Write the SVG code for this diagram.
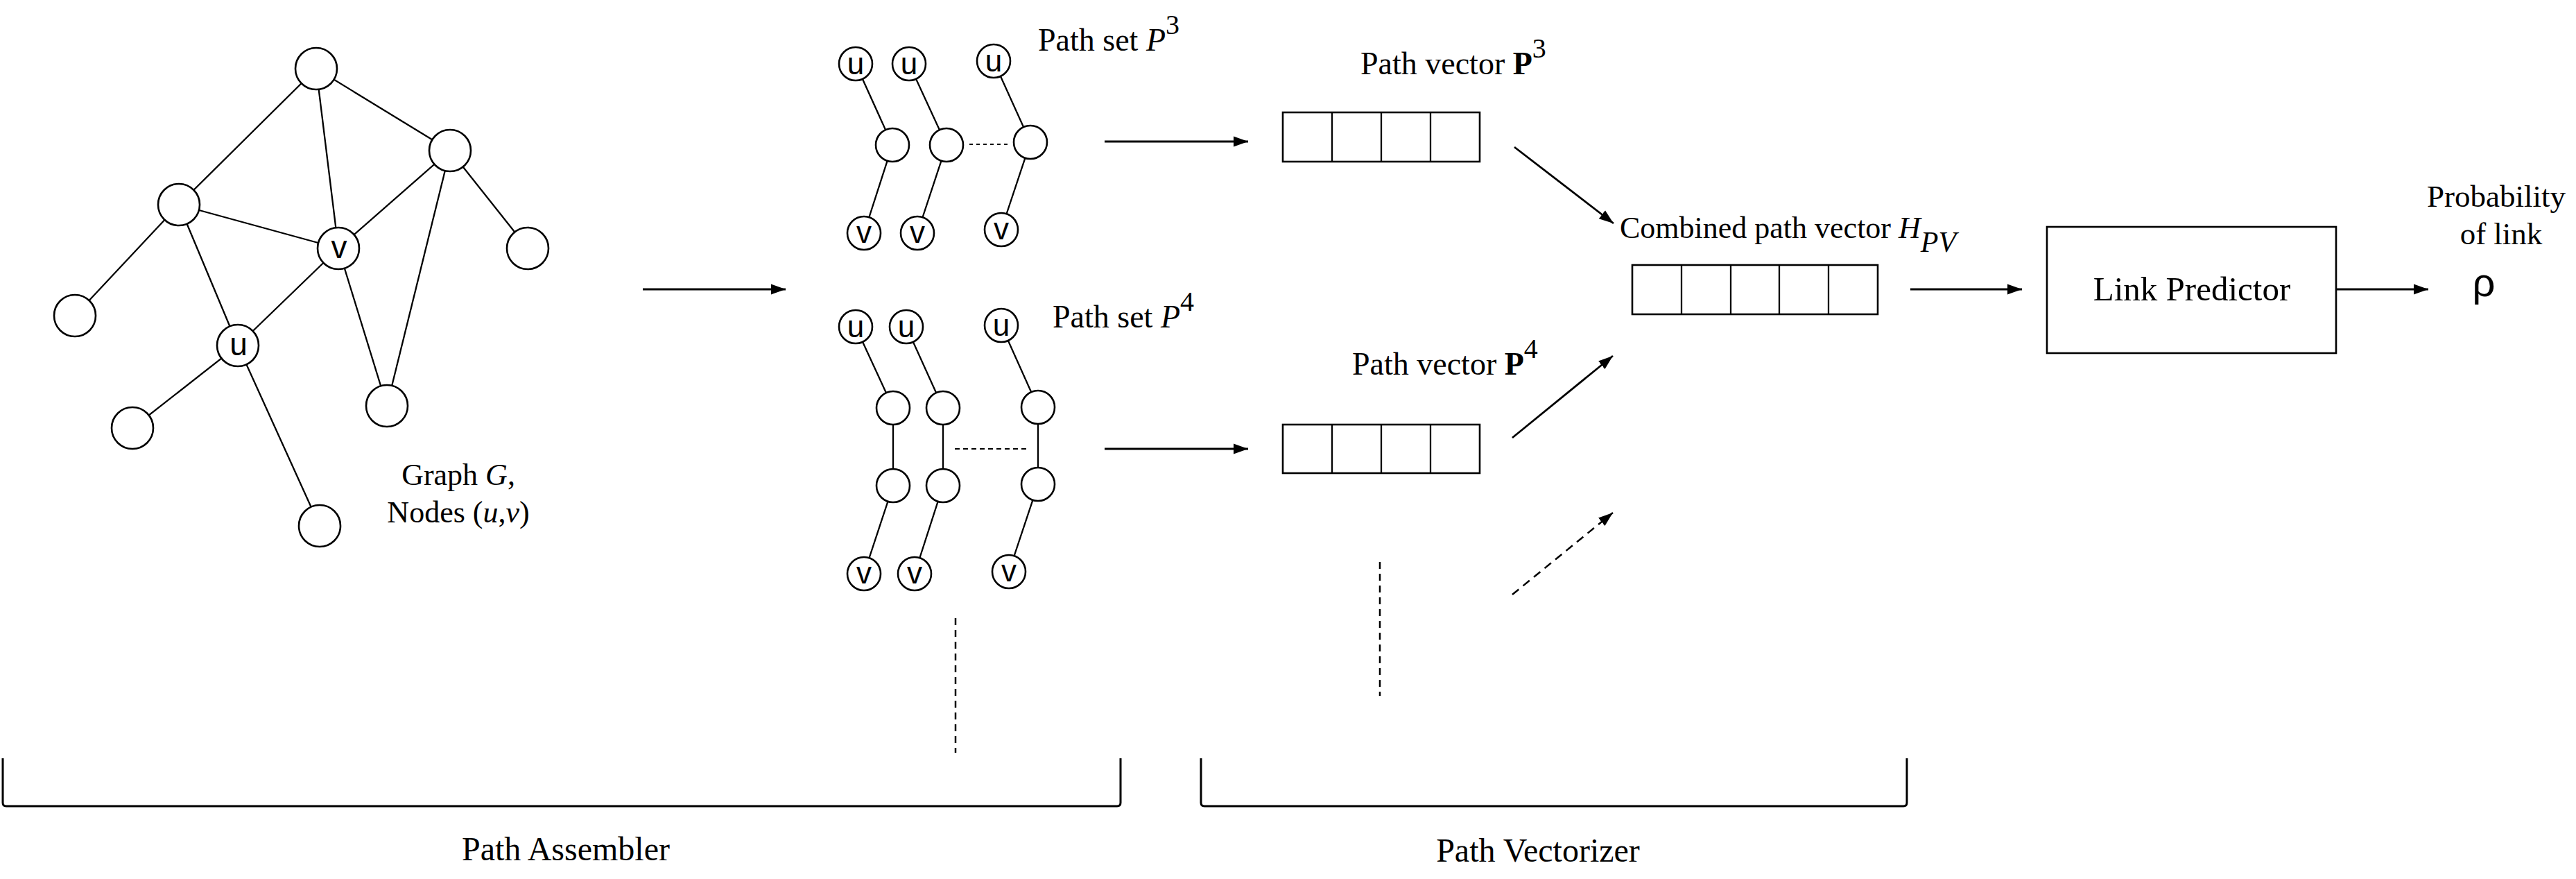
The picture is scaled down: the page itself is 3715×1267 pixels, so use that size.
<svg xmlns="http://www.w3.org/2000/svg" width="3715" height="1267" viewBox="0 0 3715 1267">
<defs>
<marker id="ah" markerUnits="userSpaceOnUse" markerWidth="22" markerHeight="16" refX="21" refY="8" orient="auto"><path d="M0,0.5 L21,8 L0,15.5 z" fill="#000"/></marker>
<style>
.e{stroke:#000;stroke-width:2.3;fill:none}
.c{fill:#fff;stroke:#000;stroke-width:2.6}
.b{fill:#fff;stroke:#000;stroke-width:2.6}
.a{stroke:#000;stroke-width:2.8;fill:none;marker-end:url(#ah)}
.ad{stroke:#000;stroke-width:2.5;fill:none;stroke-dasharray:12 8;marker-end:url(#ah)}
.d{stroke:#000;stroke-width:2.5;fill:none;stroke-dasharray:10 7}
.dot{stroke:#000;stroke-width:2;fill:none;stroke-dasharray:5 5}
.br{stroke:#000;stroke-width:3;fill:none}
.s{font-family:"Liberation Sans",Arial,sans-serif;fill:#000}
.t{font-family:"Liberation Serif","Times New Roman",serif;fill:#000}
.i{font-style:italic}
.bo{font-weight:bold}
</style>
</defs>
<rect width="3715" height="1267" fill="#fff"/>

<g id="connectors">
<line class="e" x1="456" y1="99" x2="258" y2="295"/>
<line class="e" x1="456" y1="99" x2="488" y2="358"/>
<line class="e" x1="456" y1="99" x2="649" y2="217"/>
<line class="e" x1="258" y1="295" x2="488" y2="358"/>
<line class="e" x1="258" y1="295" x2="108" y2="455"/>
<line class="e" x1="258" y1="295" x2="343" y2="498"/>
<line class="e" x1="649" y1="217" x2="488" y2="358"/>
<line class="e" x1="649" y1="217" x2="761" y2="358"/>
<line class="e" x1="649" y1="217" x2="558" y2="585"/>
<line class="e" x1="488" y1="358" x2="558" y2="585"/>
<line class="e" x1="488" y1="358" x2="343" y2="498"/>
<line class="e" x1="343" y1="498" x2="191" y2="617"/>
<line class="e" x1="343" y1="498" x2="461" y2="758"/>
<polyline class="e" points="1234,92 1287,209 1246,336"/>
<polyline class="e" points="1311,92 1365,209 1323,336"/>
<polyline class="e" points="1433,88 1486,205 1444,331"/>
<line class="dot" x1="1398" y1="208" x2="1455" y2="208"/>
<polyline class="e" points="1234,471 1288,588 1288,700 1246,827"/>
<polyline class="e" points="1307,471 1360,588 1360,700 1319,827"/>
<polyline class="e" points="1444,469 1497,587 1497,698 1455,824"/>
<line class="dot" x1="1377" y1="647" x2="1485" y2="647" style="stroke-dasharray:7 5"/>
<line class="a" x1="927" y1="417" x2="1133" y2="417"/>
<line class="a" x1="1593" y1="204" x2="1800" y2="204"/>
<line class="a" x1="1593" y1="647" x2="1800" y2="647"/>
<line class="a" x1="2184" y1="212" x2="2327" y2="322"/>
<line class="a" x1="2181" y1="631" x2="2326" y2="513"/>
<line class="ad" x1="2181" y1="857" x2="2326" y2="739"/>
<line class="a" x1="2755" y1="417" x2="2916" y2="417"/>
<line class="a" x1="3369" y1="417" x2="3502" y2="417"/>
<line class="d" x1="1378" y1="891" x2="1378" y2="1085"/>
<line class="d" x1="1990" y1="810" x2="1990" y2="1003"/>
<path class="br" d="M4,1093 L4,1157 Q4,1162 9,1162 L1611,1162 Q1616,1162 1616,1157 L1616,1093"/>
<path class="br" d="M1732,1093 L1732,1157 Q1732,1162 1737,1162 L2745,1162 Q2750,1162 2750,1157 L2750,1093"/>
</g>

<g id="graph">
<circle class="c" cx="456" cy="99" r="30"/>
<circle class="c" cx="649" cy="217" r="30"/>
<circle class="c" cx="258" cy="295" r="30"/>
<circle class="c" cx="488" cy="358" r="30"/>
<circle class="c" cx="761" cy="358" r="30"/>
<circle class="c" cx="108" cy="455" r="30"/>
<circle class="c" cx="343" cy="498" r="30"/>
<circle class="c" cx="558" cy="585" r="30"/>
<circle class="c" cx="191" cy="617" r="30"/>
<circle class="c" cx="461" cy="758" r="30"/>
<text class="s" x="344" y="512" font-size="46" text-anchor="middle">u</text>
<text class="s" x="489" y="372" font-size="46" text-anchor="middle">v</text>
<text class="t" x="661" y="699" font-size="44" text-anchor="middle">Graph <tspan class="i">G</tspan>,</text>
<text class="t" x="661" y="753" font-size="44" text-anchor="middle">Nodes (<tspan class="i">u</tspan>,<tspan class="i">v</tspan>)</text>
</g>

<g id="pathset3">
<circle class="c" cx="1234" cy="92" r="24"/>
<circle class="c" cx="1287" cy="209" r="24"/>
<circle class="c" cx="1246" cy="336" r="24"/>
<circle class="c" cx="1311" cy="92" r="24"/>
<circle class="c" cx="1365" cy="209" r="24"/>
<circle class="c" cx="1323" cy="336" r="24"/>
<circle class="c" cx="1433" cy="88" r="24"/>
<circle class="c" cx="1486" cy="205" r="24"/>
<circle class="c" cx="1444" cy="331" r="24"/>
<g class="s" font-size="44" text-anchor="middle">
<text x="1234" y="107">u</text><text x="1311" y="107">u</text><text x="1433" y="103">u</text>
<text x="1246" y="350">v</text><text x="1323" y="350">v</text><text x="1444" y="345">v</text>
</g>
<text class="t" x="1497" y="73" font-size="46">Path set <tspan class="i">P</tspan><tspan font-size="40" dy="-24">3</tspan></text>
</g>

<g id="pathset4">
<circle class="c" cx="1234" cy="471" r="24"/>
<circle class="c" cx="1288" cy="588" r="24"/>
<circle class="c" cx="1288" cy="700" r="24"/>
<circle class="c" cx="1246" cy="827" r="24"/>
<circle class="c" cx="1307" cy="471" r="24"/>
<circle class="c" cx="1360" cy="588" r="24"/>
<circle class="c" cx="1360" cy="700" r="24"/>
<circle class="c" cx="1319" cy="827" r="24"/>
<circle class="c" cx="1444" cy="469" r="24"/>
<circle class="c" cx="1497" cy="587" r="24"/>
<circle class="c" cx="1497" cy="698" r="24"/>
<circle class="c" cx="1455" cy="824" r="24"/>
<g class="s" font-size="44" text-anchor="middle">
<text x="1234" y="486">u</text><text x="1307" y="486">u</text><text x="1444" y="484">u</text>
<text x="1246" y="841">v</text><text x="1319" y="841">v</text><text x="1455" y="838">v</text>
</g>
<text class="t" x="1518" y="472" font-size="46">Path set <tspan class="i">P</tspan><tspan font-size="40" dy="-24">4</tspan></text>
</g>

<g id="pathvector3">
<rect class="b" x="1850" y="162" width="284" height="71"/>
<line class="e" x1="1921" y1="162" x2="1921" y2="233"/>
<line class="e" x1="1992" y1="162" x2="1992" y2="233"/>
<line class="e" x1="2063" y1="162" x2="2063" y2="233"/>
<text class="t" x="1962" y="107" font-size="46">Path vector <tspan class="bo">P</tspan><tspan font-size="40" dy="-24">3</tspan></text>
</g>

<g id="pathvector4">
<rect class="b" x="1850" y="612" width="284" height="70"/>
<line class="e" x1="1921" y1="612" x2="1921" y2="682"/>
<line class="e" x1="1992" y1="612" x2="1992" y2="682"/>
<line class="e" x1="2063" y1="612" x2="2063" y2="682"/>
<text class="t" x="1950" y="540" font-size="46">Path vector <tspan class="bo">P</tspan><tspan font-size="40" dy="-24">4</tspan></text>
</g>

<g id="combined">
<rect class="b" x="2354" y="382" width="354" height="71"/>
<line class="e" x1="2425" y1="382" x2="2425" y2="453"/>
<line class="e" x1="2496" y1="382" x2="2496" y2="453"/>
<line class="e" x1="2566" y1="382" x2="2566" y2="453"/>
<line class="e" x1="2637" y1="382" x2="2637" y2="453"/>
<text class="t" x="2336" y="343" font-size="44">Combined path vector <tspan class="i">H</tspan><tspan class="i" font-size="42" dy="20">PV</tspan></text>
</g>

<g id="linkpredictor">
<rect class="b" x="2952" y="327" width="417" height="182"/>
<text class="t" x="3161" y="433" font-size="49" text-anchor="middle">Link Predictor</text>
</g>

<g id="output">
<text class="t" x="3600" y="298" font-size="45" text-anchor="middle">Probability</text>
<text class="t" x="3607" y="352" font-size="45" text-anchor="middle">of link</text>
<text class="s" x="3582" y="427" font-size="58" text-anchor="middle">ρ</text>
</g>

<g id="labels">
<text class="t" x="816" y="1240" font-size="48" text-anchor="middle">Path Assembler</text>
<text class="t" x="2218" y="1242" font-size="48" text-anchor="middle">Path Vectorizer</text>
</g>
</svg>
